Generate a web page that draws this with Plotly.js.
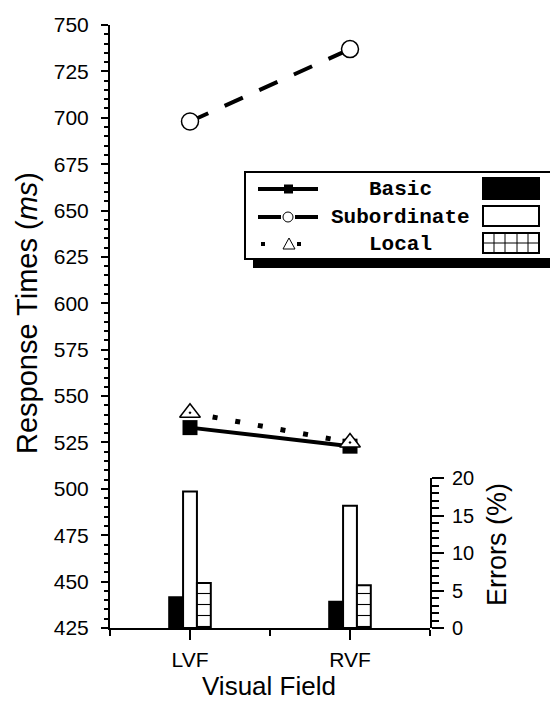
<!DOCTYPE html>
<html>
<head>
<meta charset="utf-8">
<script src="https://cdn.plot.ly/plotly-3.0.1.min.js"></script>
<style>html,body{margin:0;padding:0;background:#fff;}#chart{width:550px;height:704px;}</style>
</head>
<body>
<div id="chart"></div>
<script>
// ---- data ----
const categories = ['LVF', 'RVF'];
const seriesNames = ['Basic', 'Subordinate', 'Local'];
const basicRT = [533, 523];
const subordinateRT = [698, 737];
const localRT = [541, 525];
const basicErr = [4.1, 3.5];
const subordinateErr = [18.2, 16.3];
const localErr = [6.0, 5.7];
const rtTicks = [425, 450, 475, 500, 525, 550, 575, 600, 625, 650, 675, 700, 725, 750];
const errTicks = [0, 5, 10, 15, 20];

// ---- geometry helpers (plot area in pixels) ----
const L = 110, R = 430, T = 25, B = 628;
const px = x => (x - L) / (R - L);
const py = y => (B - y) / (B - T);

const xs = categories.map((c, i) => i + 1);
const SANS = 'Liberation Sans, Arial, sans-serif';
const MONO = 'Liberation Mono, Courier New, monospace';

const traces = [
  // error bars (right axis)
  {type: 'bar', x: xs, y: basicErr, yaxis: 'y2', name: seriesNames[0], showlegend: false,
   marker: {color: '#000', line: {color: '#000', width: 2}}},
  {type: 'bar', x: xs, y: subordinateErr, yaxis: 'y2', name: seriesNames[1], showlegend: false,
   marker: {color: '#fff', line: {color: '#000', width: 2}}},
  {type: 'bar', x: xs, y: localErr, yaxis: 'y2', name: seriesNames[2], showlegend: false,
   marker: {color: '#fff', line: {color: '#000', width: 2},
            pattern: {shape: '-', fgcolor: '#000', bgcolor: '#fff', size: 11, solidity: 0.1}}},
  // response time lines
  {type: 'scatter', mode: 'lines+markers', x: xs, y: subordinateRT, name: seriesNames[1], showlegend: false,
   line: {color: '#000', width: 4, dash: '20px,18px'},
   marker: {symbol: 'circle', size: 17, color: '#fff', line: {color: '#000', width: 1.5}}},
  {type: 'scatter', mode: 'lines+markers', x: xs, y: basicRT, name: seriesNames[0], showlegend: false,
   line: {color: '#000', width: 4},
   marker: {symbol: 'square', size: 15, color: '#000', line: {color: '#000', width: 0}}},
  {type: 'scatter', mode: 'lines+markers', x: xs, y: localRT, name: seriesNames[2], showlegend: false,
   line: {color: '#000', width: 5, dash: '5px,18px'},
   marker: {symbol: 'triangle-up-dot', size: 18, color: '#fff', line: {color: '#000', width: 1.5}}}
];

// ---- custom legend ----
const shapes = [];
const annotations = [];
const rect = (x0, y0, x1, y1, fill, lw) => shapes.push({type: 'rect', xref: 'paper', yref: 'paper',
  x0: px(x0), x1: px(x1), y0: py(y0), y1: py(y1), fillcolor: fill, line: {color: '#000', width: lw}, layer: 'above'});
const seg = (x0, y0, x1, y1, lw) => shapes.push({type: 'line', xref: 'paper', yref: 'paper',
  x0: px(x0), x1: px(x1), y0: py(y0), y1: py(y1), line: {color: '#000', width: lw}, layer: 'above'});

rect(253, 260, 551, 268, '#000', 0);          // shadow
rect(245, 172, 553, 259, '#fff', 2);          // box
const rowsY = [189, 217, 244];
// Basic glyph
seg(258, rowsY[0], 318, rowsY[0], 4);
rect(284, rowsY[0] - 4.5, 293, rowsY[0] + 4.5, '#000', 0);
// Subordinate glyph
seg(258, rowsY[1], 281, rowsY[1], 4);
seg(295, rowsY[1], 318, rowsY[1], 4);
shapes.push({type: 'circle', xref: 'paper', yref: 'paper', x0: px(283), x1: px(293), y0: py(rowsY[1] - 5), y1: py(rowsY[1] + 5),
  fillcolor: '#fff', line: {color: '#000', width: 1}, layer: 'above'});
// Local glyph
rect(261, rowsY[2] - 2, 265, rowsY[2] + 2, '#000', 0);
rect(297, rowsY[2] - 2, 301, rowsY[2] + 2, '#000', 0);
shapes.push({type: 'path', xref: 'paper', yref: 'paper',
  path: `M ${px(289)},${py(rowsY[2] - 6)} L ${px(295)},${py(rowsY[2] + 5)} L ${px(283)},${py(rowsY[2] + 5)} Z`,
  fillcolor: '#fff', line: {color: '#000', width: 1}, layer: 'above'});
// swatches
rect(483, 178, 539, 199, '#000', 2);
rect(483, 206, 539, 226, '#fff', 2);
rect(483, 233, 539, 253, '#fff', 2);
[494, 505, 517, 528].forEach(x => seg(x, 233, x, 253, 1));
seg(483, 243, 539, 243, 1);

seriesNames.forEach((n, i) => annotations.push({xref: 'paper', yref: 'paper', x: px(400), y: py(rowsY[i]),
  xanchor: 'center', yanchor: 'middle', showarrow: false, text: '<b>' + n + '</b>',
  font: {family: MONO, size: 21, color: '#000'}}));

// axis titles
annotations.push({xref: 'paper', yref: 'paper', x: px(497), y: py(545), xanchor: 'center', yanchor: 'middle',
  showarrow: false, textangle: -90, text: 'Errors (%)', font: {family: SANS, size: 27, color: '#000'}});
annotations.push({xref: 'paper', yref: 'paper', x: px(27), y: py(313), xanchor: 'center', yanchor: 'middle',
  showarrow: false, textangle: -90, text: 'Response Times (<i>ms</i>)', font: {family: SANS, size: 29, color: '#000'}});
annotations.push({xref: 'paper', yref: 'paper', x: px(269), y: py(686), xanchor: 'center', yanchor: 'middle',
  showarrow: false, text: 'Visual Field', font: {family: SANS, size: 26, color: '#000'}});

const layout = {
  width: 550, height: 704,
  margin: {l: L, r: 550 - R, t: T, b: 704 - B, pad: 0},
  paper_bgcolor: '#fff', plot_bgcolor: 'rgba(0,0,0,0)',
  showlegend: false,
  barmode: 'group', bargap: 0.74, bargroupgap: 0,
  font: {family: SANS, color: '#000'},
  xaxis: {
    range: [0.5, 2.5], tickmode: 'array', tickvals: xs, ticktext: categories,
    ticks: 'outside', ticklen: 10, tickwidth: 2, tickcolor: '#000',
    minor: {tickmode: 'array', tickvals: [0.5, 1.5, 2.5], ticks: 'outside', ticklen: 6, tickwidth: 2, tickcolor: '#000'},
    showline: true, linewidth: 2, linecolor: '#000', showgrid: false, zeroline: false,
    tickfont: {family: SANS, size: 21}, ticklabelstandoff: 2,
    anchor: 'y', fixedrange: true
  },
  yaxis: {
    range: [425, 750], tickmode: 'array', tickvals: rtTicks,
    ticks: 'outside', ticklen: 7, tickwidth: 2, tickcolor: '#000',
    minor: {dtick: 5, tick0: 425, ticks: 'outside', ticklen: 4, tickwidth: 2, tickcolor: '#000'},
    showline: true, linewidth: 2, linecolor: '#000', showgrid: false, zeroline: false,
    tickfont: {family: SANS, size: 21}, ticklabelstandoff: 8,
    anchor: 'x', fixedrange: true
  },
  yaxis2: {
    range: [0, 20], domain: [0, 150 / (B - T)], side: 'right', anchor: 'x',
    tickmode: 'array', tickvals: errTicks,
    ticks: 'outside', ticklen: 12, tickwidth: 2, tickcolor: '#000',
    minor: {dtick: 1, tick0: 0, ticks: 'outside', ticklen: 7, tickwidth: 2, tickcolor: '#000'},
    showline: true, linewidth: 2, linecolor: '#000', showgrid: false, zeroline: false,
    tickfont: {family: SANS, size: 20}, ticklabelstandoff: 4,
    fixedrange: true
  },
  shapes: shapes,
  annotations: annotations
};

Plotly.newPlot('chart', traces, layout, {staticPlot: true, displayModeBar: false});
</script>
</body>
</html>
